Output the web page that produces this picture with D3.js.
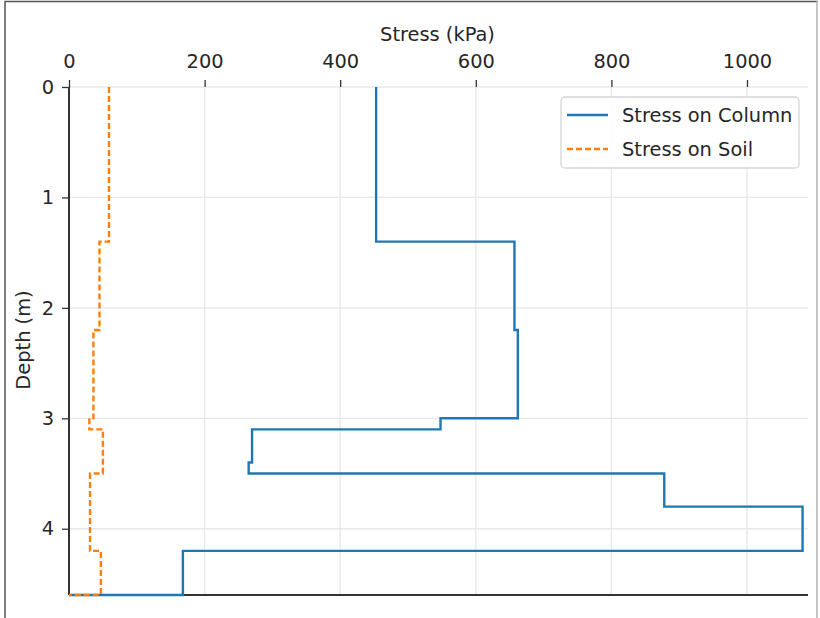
<!DOCTYPE html>
<html>
<head>
<meta charset="utf-8">
<script src="https://cdn.jsdelivr.net/npm/d3@7"></script>
<style>
  body { margin: 0; background: #fff; }
  text { font-family: "DejaVu Sans", sans-serif; fill: #262626; }
</style>
</head>
<body>
<script>
// layer boundaries (m) and stress in each layer (kPa)
const depthBreaks = [0, 1.4, 2.2, 3.0, 3.1, 3.4, 3.5, 3.8, 4.2, 4.6];
const columnStress = [453, 657, 662, 548, 270, 265, 878, 1082, 168];
const soilStress = [59, 45, 36, 30, 50, 50, 31, 31, 47];
const endStress = 0;
const xTicks = [0, 200, 400, 600, 800, 1000];
const yTicks = [0, 1, 2, 3, 4];
const seriesNames = ["Stress on Column", "Stress on Soil"];

const W = 820, H = 618;
const fontSize = "19.4px";
const margin = { top: 87, right: 12, bottom: 23, left: 69 },
      width = W - margin.left - margin.right,
      height = H - margin.top - margin.bottom;

const root = d3.select("body").append("svg")
    .attr("width", W)
    .attr("height", H);

// frame of the screenshot
root.append("rect")
    .attr("x", 5).attr("y", 1.5)
    .attr("width", 812).attr("height", 640)
    .attr("fill", "none")
    .attr("stroke", "#555")
    .attr("stroke-width", 1.5);
root.append("line")
    .attr("x1", 817).attr("x2", 817).attr("y1", 1.5).attr("y2", H)
    .attr("stroke", "#ddd").attr("stroke-width", 1.5);

const svg = root.append("g")
    .attr("transform", `translate(${margin.left},${margin.top})`);

const x = d3.scaleLinear().domain([0, 1090]).range([0, width]);
const y = d3.scaleLinear().domain([0, 4.6]).range([0, height]);

// grid
svg.append("g").selectAll("line")
    .data(xTicks)
    .join("line")
    .attr("x1", d => x(d)).attr("x2", d => x(d))
    .attr("y1", 0).attr("y2", height)
    .attr("stroke", "#e8e8e8").attr("stroke-width", 1.3);
svg.append("g").selectAll("line")
    .data(yTicks)
    .join("line")
    .attr("x1", 0).attr("x2", width)
    .attr("y1", d => y(d)).attr("y2", d => y(d))
    .attr("stroke", "#e8e8e8").attr("stroke-width", 1.3);

// top axis
const xAxis = svg.append("g")
    .call(d3.axisTop(x).tickValues(xTicks).tickSize(7).tickPadding(12).tickFormat(d3.format("d")));
xAxis.select(".domain").remove();
xAxis.selectAll(".tick line").attr("stroke", "#333").attr("stroke-width", 1.3);
xAxis.selectAll(".tick text").style("font-size", fontSize).attr("fill", "#262626");

// left axis
const yAxis = svg.append("g")
    .call(d3.axisLeft(y).tickValues(yTicks).tickSize(7).tickPadding(8).tickFormat(d3.format("d")));
yAxis.select(".domain").remove();
yAxis.selectAll(".tick line").attr("stroke", "#333").attr("stroke-width", 1.3);
yAxis.selectAll(".tick text").style("font-size", fontSize).attr("fill", "#262626");

// axis labels
svg.append("text")
    .attr("x", width / 2 - 1)
    .attr("y", -46)
    .attr("text-anchor", "middle")
    .style("font-size", fontSize)
    .text("Stress (kPa)");
svg.append("text")
    .attr("transform", `translate(${-39},${height / 2 - 1}) rotate(-90)`)
    .attr("text-anchor", "middle")
    .style("font-size", fontSize)
    .text("Depth (m)");

// spines (left and bottom only), under the profiles
svg.append("line")
    .attr("x1", 0).attr("x2", 0).attr("y1", 0).attr("y2", height)
    .attr("stroke", "#333").attr("stroke-width", 2);
svg.append("line")
    .attr("x1", 0).attr("x2", width).attr("y1", height).attr("y2", height)
    .attr("stroke", "#333").attr("stroke-width", 2);

// step profiles: each layer gives a top and bottom point, then back to 0 at the base
function profile(values) {
    const pts = [];
    values.forEach((v, i) => {
        pts.push([v, depthBreaks[i]]);
        pts.push([v, depthBreaks[i + 1]]);
    });
    pts.push([endStress, depthBreaks[depthBreaks.length - 1]]);
    return pts;
}

const line = d3.line()
    .x(d => x(d[0]))
    .y(d => y(d[1]));

svg.append("path")
    .datum(profile(columnStress))
    .attr("d", line)
    .attr("fill", "none")
    .attr("stroke", "#1f77b4")
    .attr("stroke-width", 2.4);

svg.append("path")
    .datum(profile(soilStress))
    .attr("d", line)
    .attr("fill", "none")
    .attr("stroke", "#ff7f0e")
    .attr("stroke-width", 2.4)
    .attr("stroke-dasharray", "6,3");

// legend
const legend = svg.append("g")
    .attr("transform", `translate(${561 - margin.left},${97 - margin.top})`);
legend.append("rect")
    .attr("width", 238).attr("height", 71)
    .attr("rx", 4)
    .attr("fill", "#fff").attr("fill-opacity", 0.85)
    .attr("stroke", "#d6d6d6").attr("stroke-width", 1.3);
const items = legend.selectAll(".item")
    .data(seriesNames)
    .join("g")
    .attr("class", "item")
    .attr("transform", (d, i) => `translate(0,${18 + i * 34})`);
items.append("line")
    .attr("x1", 6).attr("x2", 47)
    .attr("stroke", (d, i) => i === 0 ? "#1f77b4" : "#ff7f0e")
    .attr("stroke-width", 2.4)
    .attr("stroke-dasharray", (d, i) => i === 0 ? null : "6,3");
items.append("text")
    .attr("x", 61)
    .attr("dy", "0.35em")
    .style("font-size", fontSize)
    .text(d => d);
</script>
</body>
</html>
